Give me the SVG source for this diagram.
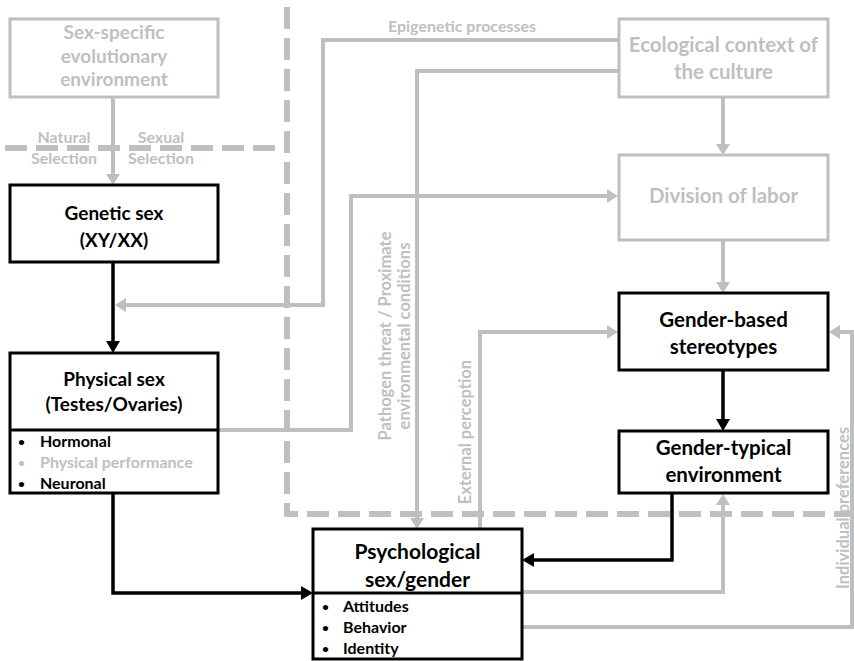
<svg xmlns="http://www.w3.org/2000/svg" width="854" height="661" viewBox="0 0 854 661">
<style>
text{font-family:Lato,"Liberation Sans",sans-serif;font-weight:bold}
.g{fill:#bfbfbf}
.k{fill:#000}
.t{font-size:19px;text-anchor:middle}
.r{font-size:20.5px}
.b{font-size:16px}
.d{font-size:12px}
.s{font-size:16.5px}
.boxg{fill:#fff;stroke:#bfbfbf;stroke-width:3}
.boxk{fill:#fff;stroke:#000;stroke-width:3}
.cg{fill:none;stroke:#bfbfbf;stroke-width:4}
.ck{fill:none;stroke:#000;stroke-width:3.5}
.dash{fill:none;stroke:#bfbfbf;stroke-width:6;stroke-dasharray:22 9}
</style>
<defs>
<marker id="ag" markerUnits="userSpaceOnUse" markerWidth="11" markerHeight="14" refX="3" refY="7" orient="auto">
<path d="M0,0 L11,7 L0,14 z" fill="#bfbfbf"/>
</marker>
<marker id="ak" markerUnits="userSpaceOnUse" markerWidth="12" markerHeight="14" refX="3" refY="7" orient="auto">
<path d="M0,0 L12,7 L0,14 z" fill="#000"/>
</marker>
</defs>
<rect width="854" height="661" fill="#fff"/>
<g id="boundaries">
<path class="dash" d="M5,148 H287"/>
<path class="dash" d="M287,7 V514 H854"/>
</g>
<g id="connectors">
<path class="cg" d="M113,97 V177" marker-end="url(#ag)"/>
<path class="cg" d="M619,40 H323 V305 H123" marker-end="url(#ag)"/>
<path class="cg" d="M619,71 H417 V521" marker-end="url(#ag)"/>
<path class="cg" d="M723,97 V147" marker-end="url(#ag)"/>
<path class="cg" d="M723,240 V285" marker-end="url(#ag)"/>
<path class="cg" d="M218,430 H351 V196 H610" marker-end="url(#ag)"/>
<path class="cg" d="M480,528 V332 H610" marker-end="url(#ag)"/>
<path class="cg" d="M522,592 H723 V502" marker-end="url(#ag)"/>
<path class="cg" d="M522,627 H852 V332 H837" marker-end="url(#ag)"/>
<path class="ck" d="M113,262 V344" marker-end="url(#ak)"/>
<path class="ck" d="M113,493 V593 H304" marker-end="url(#ak)"/>
<path class="ck" d="M723,370 V422" marker-end="url(#ak)"/>
<path class="ck" d="M672,493 V560 H531" marker-end="url(#ak)"/>
</g>
<g id="labels">
<text class="g b" x="64" y="143" text-anchor="middle">Natural</text>
<text class="g b" x="64" y="164" text-anchor="middle">Selection</text>
<text class="g b" x="161" y="143" text-anchor="middle">Sexual</text>
<text class="g b" x="161" y="164" text-anchor="middle">Selection</text>
<text class="g b" x="462" y="32" text-anchor="middle">Epigenetic processes</text>
<text class="g s" transform="translate(391,336) rotate(-90)" text-anchor="middle">Pathogen threat / Proximate</text>
<text class="g s" transform="translate(410,336) rotate(-90)" text-anchor="middle">environmental conditions</text>
<text class="g s" transform="translate(471,432) rotate(-90)" text-anchor="middle">External perception</text>
<text class="g s" transform="translate(849,508) rotate(-90)" text-anchor="middle">Individual preferences</text>
</g>
<g id="sex-specific">
<rect class="boxg" x="10" y="19" width="208" height="78"/>
<text class="g t" x="114" y="39">Sex-specific</text>
<text class="g t" x="114" y="63">evolutionary</text>
<text class="g t" x="114" y="86">environment</text>
</g>
<g id="genetic-sex">
<rect class="boxk" x="10" y="185" width="208" height="77"/>
<text class="k t" x="114" y="220">Genetic sex</text>
<text class="k t" x="114" y="247">(XY/XX)</text>
</g>
<g id="physical-sex">
<rect class="boxk" x="10" y="353" width="208" height="140"/>
<line x1="10" y1="430" x2="218" y2="430" stroke="#000" stroke-width="3"/>
<text class="k t" x="114" y="386">Physical sex</text>
<text class="k t" x="114" y="411">(Testes/Ovaries)</text>
<text class="k d" x="18" y="446">•</text>
<text class="k b" x="40" y="447">Hormonal</text>
<text class="g d" x="18" y="467">•</text>
<text class="g b" x="40" y="468">Physical performance</text>
<text class="k d" x="18" y="488">•</text>
<text class="k b" x="40" y="489">Neuronal</text>
</g>
<g id="ecological">
<rect class="boxg" x="619" y="19" width="209" height="78"/>
<text class="g t r" x="723.5" y="52">Ecological context of</text>
<text class="g t r" x="723.5" y="79">the culture</text>
</g>
<g id="division">
<rect class="boxg" x="619" y="155" width="209" height="85"/>
<text class="g t r" x="723.5" y="203">Division of labor</text>
</g>
<g id="gender-based">
<rect class="boxk" x="619" y="293" width="209" height="77"/>
<text class="k t r" x="723.5" y="327">Gender-based</text>
<text class="k t r" x="723.5" y="354">stereotypes</text>
</g>
<g id="gender-typical">
<rect class="boxk" x="619" y="431" width="209" height="62"/>
<text class="k t r" x="723.5" y="455">Gender-typical</text>
<text class="k t r" x="723.5" y="482">environment</text>
</g>
<g id="psychological">
<rect class="boxk" x="313" y="529" width="209" height="130"/>
<line x1="313" y1="593" x2="522" y2="593" stroke="#000" stroke-width="3"/>
<text class="k t" x="417.5" y="559" style="font-size:21px">Psychological</text>
<text class="k t" x="417.5" y="587" style="font-size:21px">sex/gender</text>
<text class="k d" x="322" y="611">•</text>
<text class="k b" x="343" y="612">Attitudes</text>
<text class="k d" x="322" y="632">•</text>
<text class="k b" x="343" y="633">Behavior</text>
<text class="k d" x="322" y="653">•</text>
<text class="k b" x="343" y="654">Identity</text>
</g>
</svg>
